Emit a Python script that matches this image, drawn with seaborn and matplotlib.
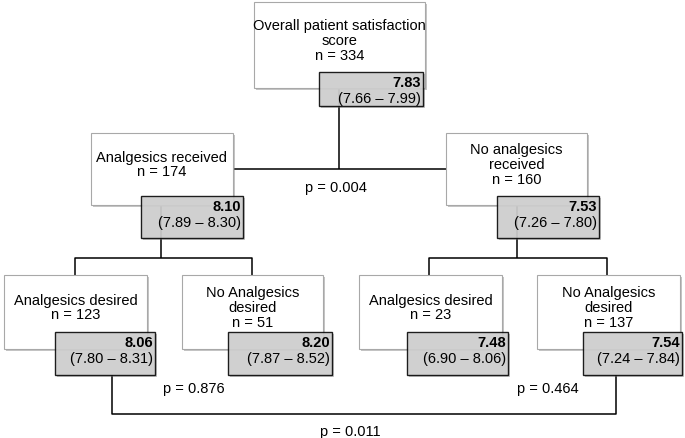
import matplotlib
matplotlib.use("Agg")
import matplotlib.pyplot as plt
import matplotlib.patheffects as pe
from matplotlib.patches import Rectangle
import seaborn as sns

# datos del árbol
labels = ["Overall patient satisfaction\nscore", "Analgesics received", "No analgesics\nreceived",
          "Analgesics desired", "No Analgesics\ndesired", "Analgesics desired", "No Analgesics\ndesired"]
n_values = [334, 174, 160, 123, 51, 23, 137]
means = [7.83, 8.10, 7.53, 8.06, 8.20, 7.48, 7.54]
ci_low = [7.66, 7.89, 7.26, 7.80, 7.87, 6.90, 7.24]
ci_high = [7.99, 8.30, 7.80, 8.31, 8.52, 8.06, 7.84]
p_values = [0.004, 0.876, 0.464, 0.011]

# posiciones (pixeles, y hacia abajo)
white_boxes = [(254, 2, 425, 88), (91, 133, 233, 205), (446, 133, 587, 205),
               (4, 275, 147, 349), (182, 275, 323, 349), (359, 275, 502, 349), (537, 275, 680, 349)]
gray_boxes = [(319, 72, 423, 106), (141, 196, 243, 238), (497, 196, 599, 238),
              (55, 332, 155, 375), (228, 332, 332, 375), (407, 332, 508, 375), (583, 332, 682, 375)]
p_pos = [(336, 188), (194, 389), (548, 389), (350, 432)]

sns.set_theme(style="white")
plt.rcParams["font.family"] = ["Liberation Sans", "DejaVu Sans"]
plt.rcParams["text.color"] = "black"

fig = plt.figure(figsize=(6.85, 4.38), dpi=100)
ax = fig.add_axes([0, 0, 1, 1])
ax.set_xlim(0, 685)
ax.set_ylim(438, 0)
ax.axis("off")

sombra = [pe.SimplePatchShadow(offset=(1.5, -1.5), shadow_rgbFace="gray", alpha=0.45), pe.Normal()]
fs = 10.5

for i, (x0, y0, x1, y1) in enumerate(white_boxes):
    r = Rectangle((x0, y0), x1 - x0, y1 - y0, facecolor="white", edgecolor="#a8a8a8",
                  lw=0.8, zorder=2)
    r.set_path_effects(sombra)
    ax.add_patch(r)
    cy = (y0 + y1) / 2 - 4
    ax.text((x0 + x1) / 2, cy, f"{labels[i]}\nn = {n_values[i]}", ha="center", va="center",
            fontsize=fs, linespacing=1.05, zorder=4)

for i, (x0, y0, x1, y1) in enumerate(gray_boxes):
    r = Rectangle((x0, y0), x1 - x0, y1 - y0, facecolor="#d2d2d2", edgecolor="black",
                  lw=1.0, alpha=0.88, zorder=3)
    r.set_path_effects(sombra)
    ax.add_patch(r)
    ax.text(x1 - 2, y0 + 11, f"{means[i]:.2f}", ha="right", va="center",
            fontsize=fs, fontweight="bold", zorder=4)
    ax.text(x1 - 2, y0 + 27, f"({ci_low[i]:.2f} – {ci_high[i]:.2f})", ha="right", va="center",
            fontsize=fs, zorder=4)

# conexiones
kw = dict(color="black", lw=1.1, zorder=1, solid_capstyle="butt")
ax.plot([339, 339], [88, 169], **kw)
ax.plot([233, 446], [169, 169], **kw)
ax.plot([161, 161], [205, 258], **kw)
ax.plot([75, 75, 252, 252], [275, 258, 258, 275], **kw)
ax.plot([517, 517], [205, 258], **kw)
ax.plot([429, 429, 607, 607], [275, 258, 258, 275], **kw)
ax.plot([112, 112, 616, 616], [375, 414, 414, 375], **kw)

for (px, py), p in zip(p_pos, p_values):
    ax.text(px, py, f"p = {p:.3f}", ha="center", va="center", fontsize=fs)

plt.savefig("out.png", dpi=100)
plt.close()
